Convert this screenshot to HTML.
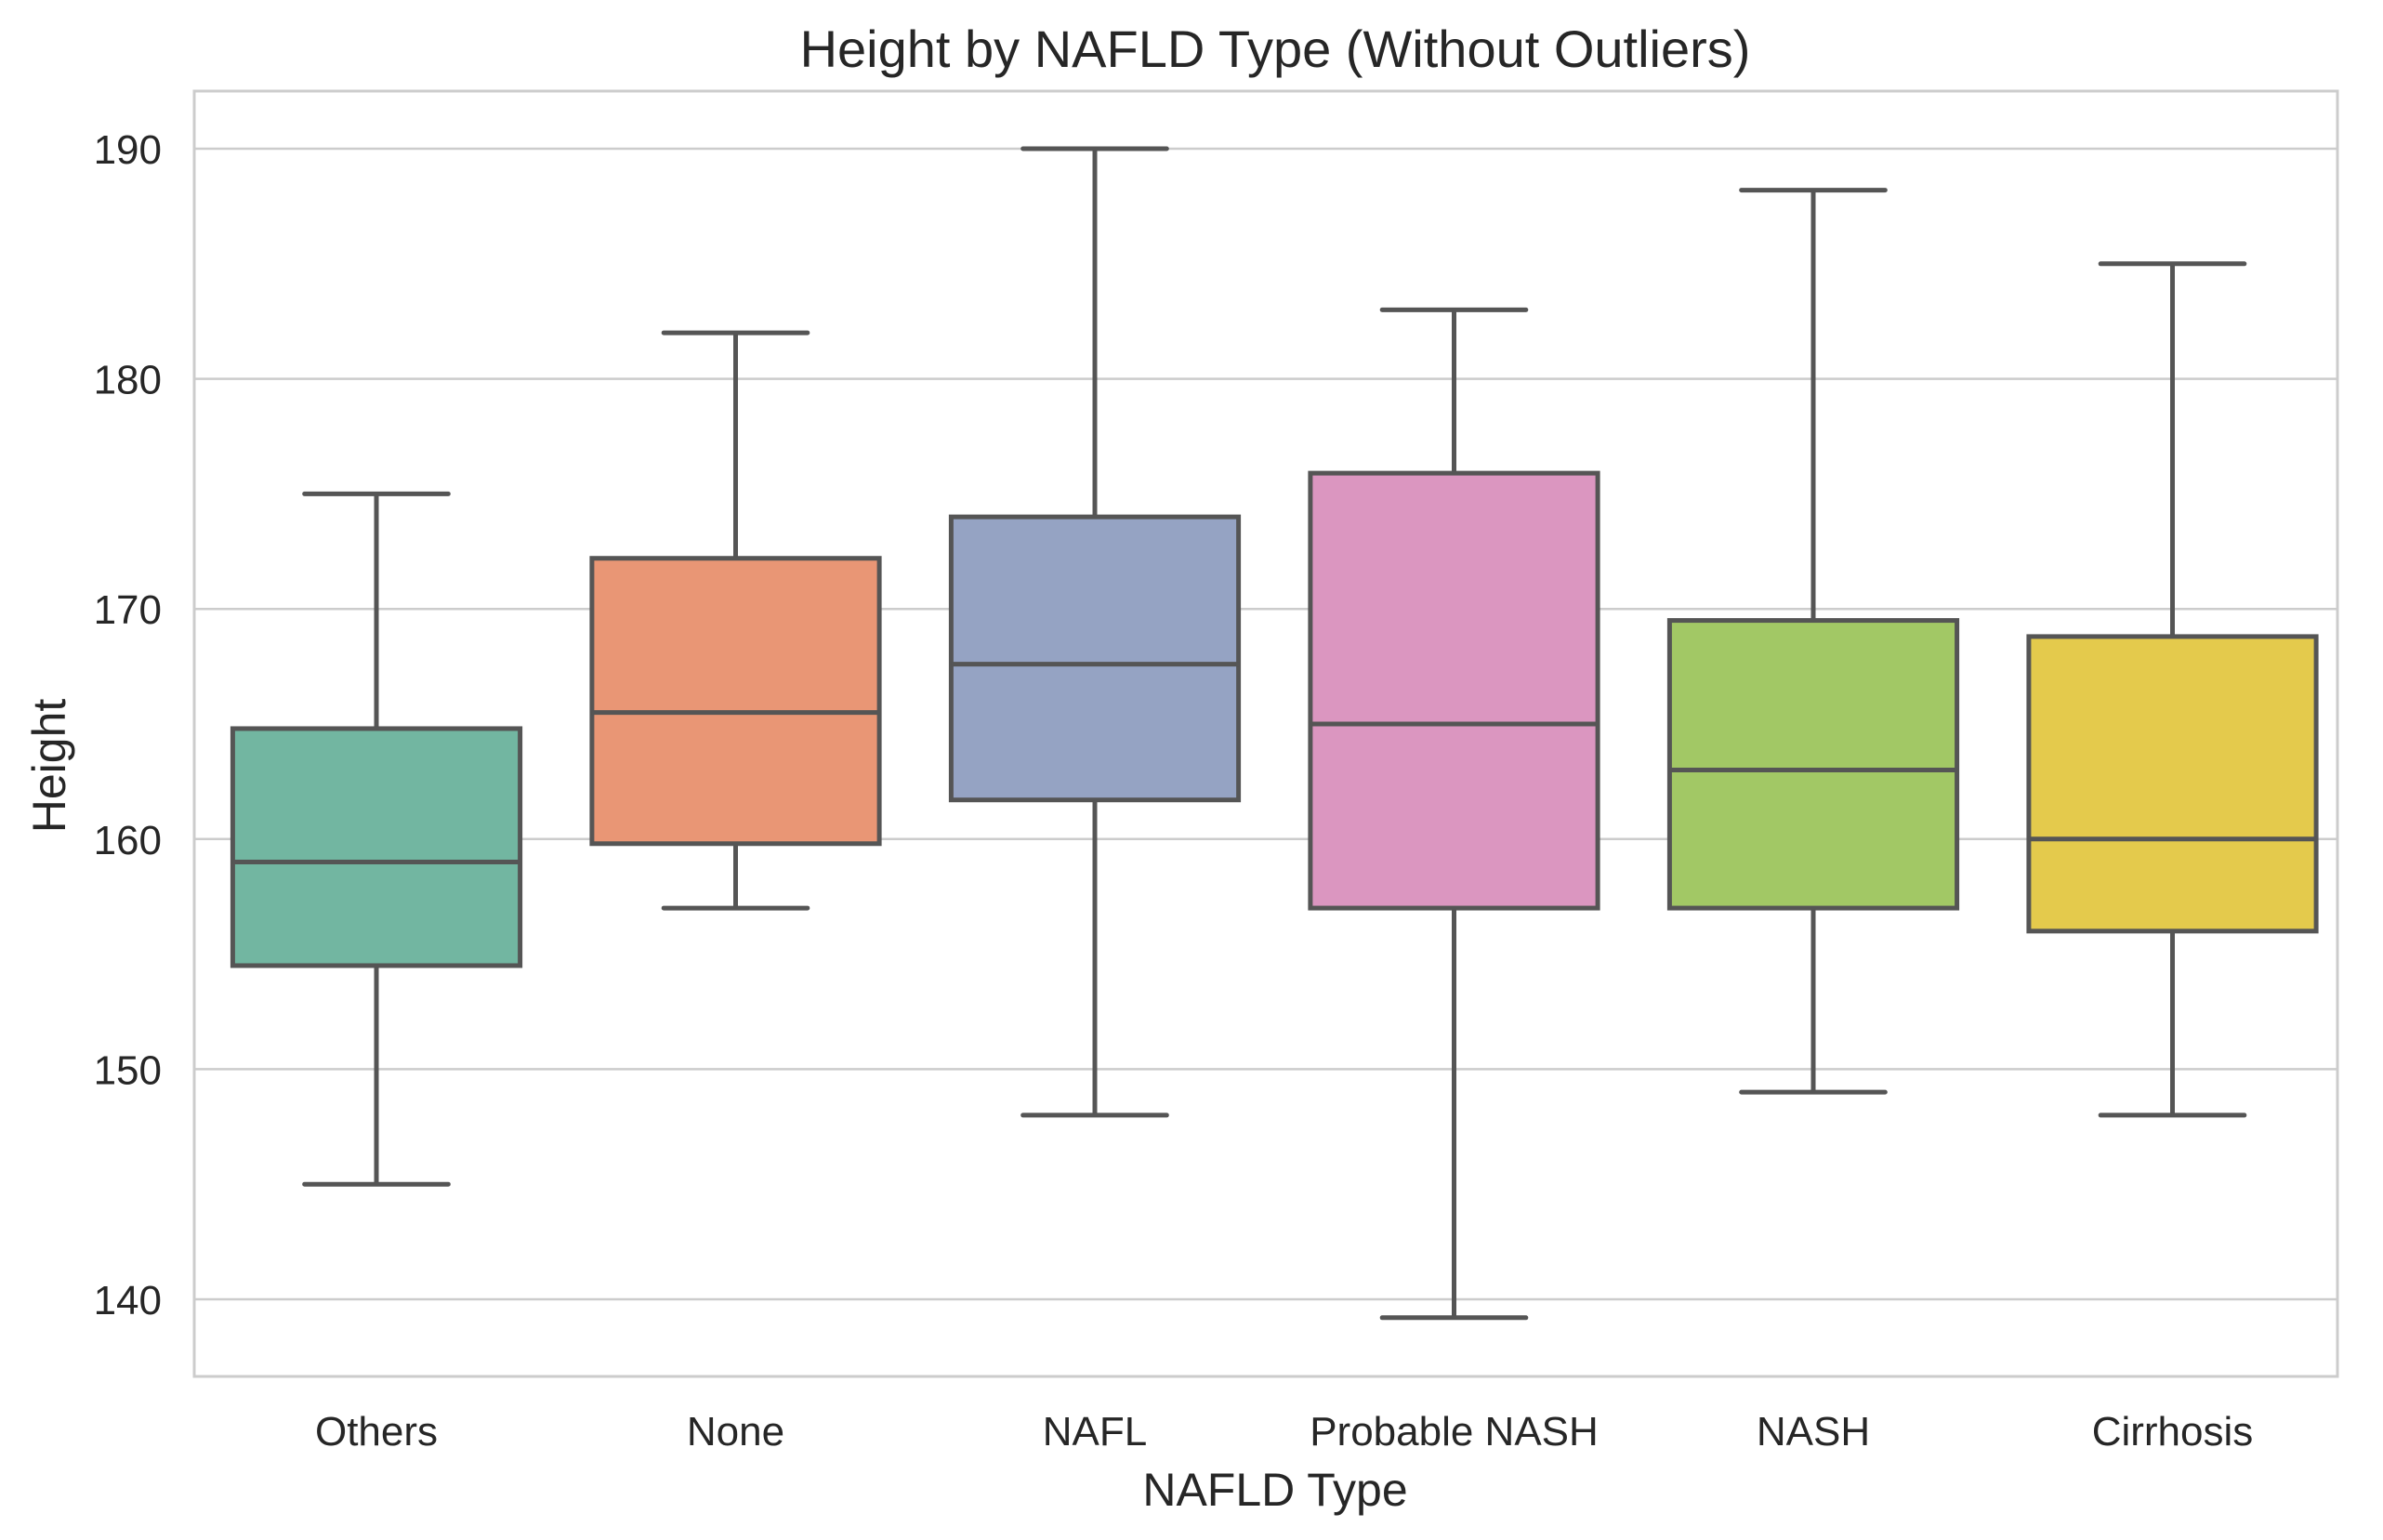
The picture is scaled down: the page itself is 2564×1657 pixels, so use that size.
<!DOCTYPE html>
<html><head><meta charset="utf-8"><style>
html,body{margin:0;padding:0;background:#fff;}
svg{display:block;font-family:"Liberation Sans",Arial,sans-serif;}
</style></head><body>
<svg id="chart" width="2564" height="1657" viewBox="0 0 2564 1657" xmlns="http://www.w3.org/2000/svg">
<text x="1372" y="72" font-size="56" fill="#262626" text-anchor="middle">Height by NAFLD Type (Without Outliers)</text>
<g id="grid"></g>
<g id="boxes"></g>
<g id="axes"></g>
<text x="1372" y="1620" font-size="50" fill="#262626" text-anchor="middle">NAFLD Type</text>
<text x="0" y="0" font-size="50" fill="#262626" text-anchor="middle" transform="translate(70,824) rotate(-90)">Height</text>
</svg>
<script>
const categories = ["Others","None","NAFL","Probable NASH","NASH","Cirrhosis"];
const whiskerLow = [145,157,148,139.2,149,148];
const q1 = [154.5,159.8,161.7,157,157,156];
const median = [159,165.5,167.6,165,163,160];
const q3 = [164.8,172.2,174,175.9,169.5,168.8];
const whiskerHigh = [175,182,190,183,188.2,185];
const yTicks = [140,150,160,170,180,190];
const colors = ["#72b6a1","#e99675","#95a3c3","#db96c0","#a2c865","#e4ca4c"];

const NS="http://www.w3.org/2000/svg";
const L=209,R=2515,T=98,B=1481;
const y=v=>1398+(140-v)*(1398-160)/50;
const band=386.5;
const x=i=>405+band*i;
function mk(tag,attrs,parent){const e=document.createElementNS(NS,tag);for(const k in attrs)e.setAttribute(k,attrs[k]);parent.appendChild(e);return e;}
const grid=document.getElementById('grid'),boxes=document.getElementById('boxes'),axes=document.getElementById('axes');
yTicks.forEach(t=>{
  const g=mk('line',{x1:L,x2:R,y1:y(t),y2:y(t),stroke:'#cccccc','stroke-width':2.5},grid);
  
  
  const tx=mk('text',{x:174,y:y(t)+16,'font-size':44,fill:'#262626','text-anchor':'end'},axes);
  tx.textContent=t;
  
  
});
const frame=mk('rect',{x:L,y:T,width:R-L,height:B-T,fill:'none',stroke:'#cccccc','stroke-width':3},axes);


const bw=band*0.8, cw=band*0.4, lc='#555555', lw=5;
categories.forEach((c,i)=>{
  const cx=x(i);
  const g=mk('g',{},boxes);
  
  
  mk('line',{x1:cx,x2:cx,y1:y(whiskerLow[i]),y2:y(q1[i]),stroke:lc,'stroke-width':lw},g);
  mk('line',{x1:cx,x2:cx,y1:y(q3[i]),y2:y(whiskerHigh[i]),stroke:lc,'stroke-width':lw},g);
  mk('line',{x1:cx-cw/2,x2:cx+cw/2,y1:y(whiskerLow[i]),y2:y(whiskerLow[i]),stroke:lc,'stroke-width':lw,'stroke-linecap':'round'},g);
  mk('line',{x1:cx-cw/2,x2:cx+cw/2,y1:y(whiskerHigh[i]),y2:y(whiskerHigh[i]),stroke:lc,'stroke-width':lw,'stroke-linecap':'round'},g);
  mk('rect',{x:cx-bw/2,y:y(q3[i]),width:bw,height:y(q1[i])-y(q3[i]),fill:colors[i],stroke:lc,'stroke-width':lw},g);
  mk('line',{x1:cx-bw/2,x2:cx+bw/2,y1:y(median[i]),y2:y(median[i]),stroke:lc,'stroke-width':lw},g);
  const tx=mk('text',{x:cx,y:1555,'font-size':44,fill:'#262626','text-anchor':'middle'},axes);
  tx.textContent=c;
  
  
});
</script>
</body></html>
